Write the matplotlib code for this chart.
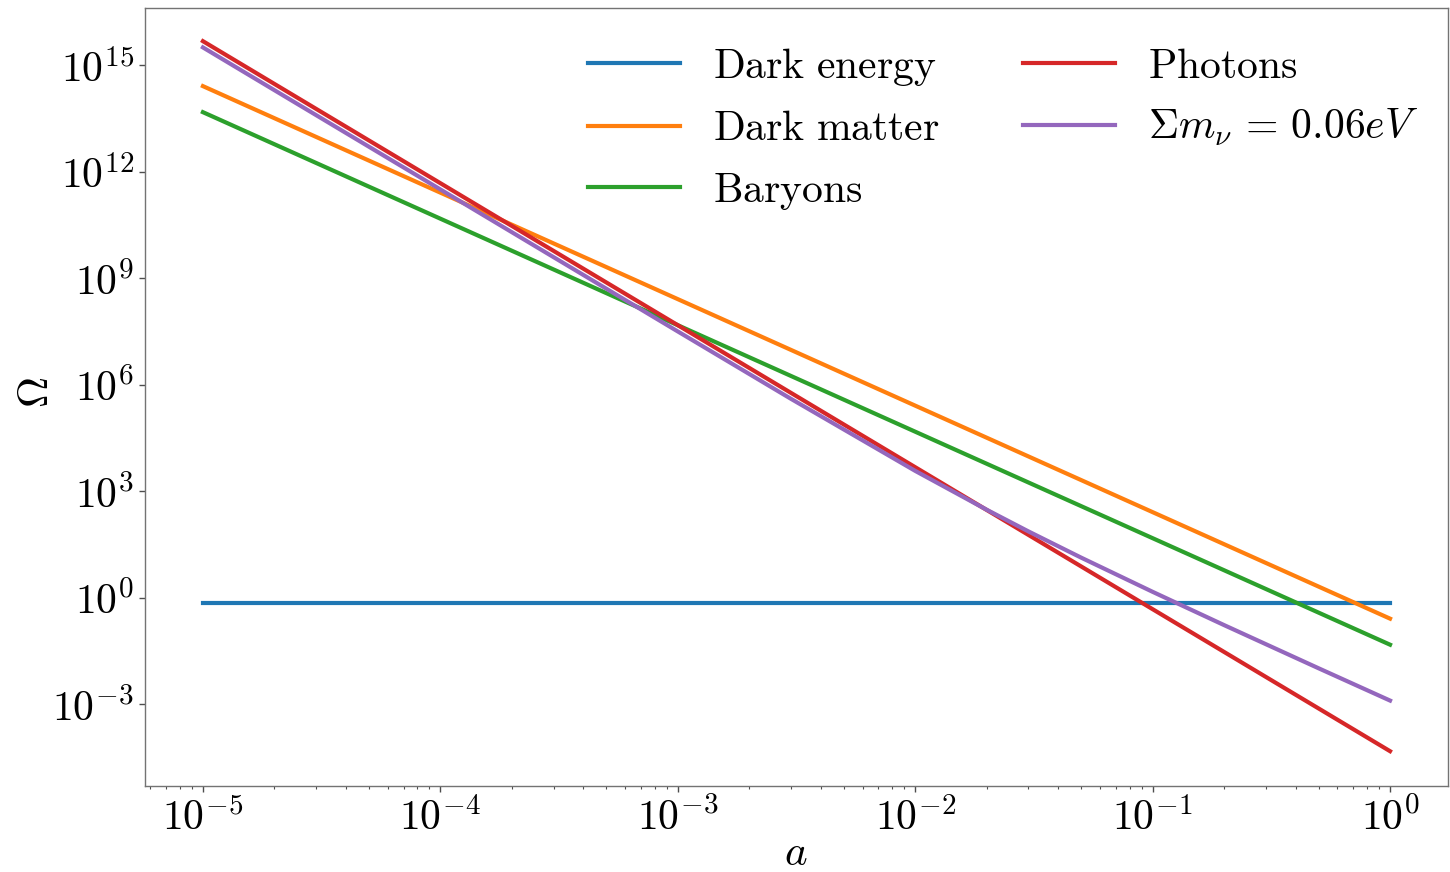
import numpy as np
import matplotlib
matplotlib.use("Agg")
import matplotlib.pyplot as plt
from matplotlib.ticker import FixedLocator, FixedFormatter, NullLocator, LogLocator

# ---- data ----
a_ends = [1e-5, 1.0]
dark_energy = [0.7, 0.7]
dark_matter = [2.6e14, 0.26]
baryons = [4.8e13, 0.048]
photons = [4.8e15, 4.8e-5]

a_nu = [1e-5, 1e-4, 1e-3, 3e-3, 1e-2, 2e-2, 3e-2, 5e-2, 0.1, 0.2, 0.5, 1.0]
neutrinos = [3.2e15, 3.2e11, 3.2e7, 4.03e5, 3780.0, 304.0, 74.4, 13.6, 1.48, 0.171, 0.0104, 0.00128]

labels = [r'$\mathrm{Dark\ energy}$', r'$\mathrm{Dark\ matter}$', r'$\mathrm{Baryons}$',
          r'$\mathrm{Photons}$', r'$\Sigma m_{\nu} \,=\, 0.06 eV$']
colors = ['#1f77b4', '#ff7f0e', '#2ca02c', '#d62728', '#9467bd']

yticks_exp = [-3, 0, 3, 6, 9, 12, 15]
xticks_exp = [-5, -4, -3, -2, -1, 0]

plt.rcParams['mathtext.fontset'] = 'cm'

fig = plt.figure(figsize=(14.5, 8.72), dpi=100)
ax = fig.add_axes([0.1, 0.0986, 0.8986, 0.8924])

series = [(a_ends, dark_energy), (a_ends, dark_matter), (a_ends, baryons), (a_ends, photons), (a_nu, neutrinos)]
for (x, y), lab, c in zip(series, labels, colors):
    ax.plot(x, y, color=c, lw=3, label=lab)

ax.set_xscale('log')
ax.set_yscale('log')
ax.set_xlim(10**-5.244, 10**0.244)
ax.set_ylim(10**-5.30, 10**16.62)

ax.yaxis.set_major_locator(FixedLocator([10.0**e for e in yticks_exp]))
ax.yaxis.set_major_formatter(FixedFormatter([r'$10^{%d}$' % e for e in yticks_exp]))
ax.yaxis.set_minor_locator(NullLocator())
ax.xaxis.set_major_locator(FixedLocator([10.0**e for e in xticks_exp]))
ax.xaxis.set_major_formatter(FixedFormatter([r'$10^{%d}$' % e for e in xticks_exp]))
ax.xaxis.set_minor_locator(LogLocator(base=10, subs=np.arange(2, 10), numticks=20))

ax.tick_params(axis='both', which='major', labelsize=30, length=4, width=1, color='0.3', pad=4)
ax.tick_params(axis='x', which='minor', length=2.5, width=0.8, color='0.3')
for s in ax.spines.values():
    s.set_color('0.45')
    s.set_linewidth(1.0)

fig.text(796 / 1450, 1 - 853 / 872, r'$a$', fontsize=31, ha='center', va='center')
fig.text(36 / 1450, 1 - 392 / 872, r'$\Omega$', fontsize=31, ha='center', va='center', rotation=90)

ax.legend(ncol=2, frameon=False, fontsize=30, loc='upper right',
          bbox_to_anchor=(1.0, 0.99), handlelength=2.2, handletextpad=0.8,
          columnspacing=2.0, labelspacing=0.47, borderaxespad=0.3)

fig.savefig('out.png', dpi=100)
